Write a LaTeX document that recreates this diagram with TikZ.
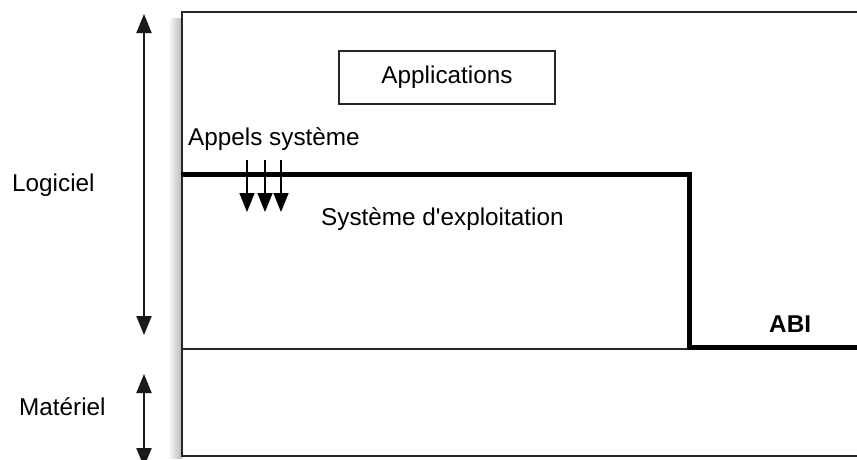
\documentclass[tikz,border=0pt]{standalone}
\usepackage{fontspec}
\setmainfont{Liberation Sans}
\usetikzlibrary{arrows.meta,positioning}
\tikzset{
  layer text/.style={font=\fontsize{24.3}{29}\selectfont, inner sep=0pt},
  frame line/.style={draw=black!85, line width=2pt},
  abi line/.style={draw=black, line width=5pt},
  span arrow/.style={draw=black!90, line width=2pt, {Triangle[length=19pt,width=15pt]}-{Triangle[length=19pt,width=15pt]}},
  call arrow/.style={draw=black, line width=1.6pt, -{Triangle[length=19pt,width=15pt]}},
}
\begin{document}
\begin{tikzpicture}[x=1pt,y=-1pt]
  \useasboundingbox (0,0) rectangle (857,459);
  % soft shadow left of the frame
  \shade[left color=white, right color=black!28] (168,18) rectangle (182,458);
  % frame and hardware boundary
  \draw[frame line] (182,12) rectangle (870,456);
  \draw[frame line] (182,349) -- (870,349);
  % ABI boundary
  \coordinate (abi start) at (181,174);
  \coordinate (abi corner) at (689,174);
  \coordinate (abi foot) at (689,347);
  \coordinate (abi end) at (870,347);
  \draw[abi line, line join=miter] (abi start) -- (abi corner) -- (abi foot) -- (abi end);

  \node[layer text, draw=black!85, line width=2pt, minimum width=216pt, minimum height=53pt]
    (apps) at (447,77.5) {Applications};
  \node[layer text, anchor=base west] (calls) at (188,145) {Appels système};
  \node[layer text, anchor=base west] (os) at (321,225) {Système d\textquotesingle exploitation};
  \node[layer text, anchor=base west, font=\fontsize{24.3}{29}\selectfont\bfseries] (abi) at (769,332) {ABI};
  \node[layer text, anchor=base west] (soft) at (12,191) {Logiciel};
  \node[layer text, anchor=base west] (hard) at (19,415) {Matériel};

  % extents
  \coordinate (soft top) at (144,14);
  \coordinate (soft bot) at (144,335);
  \coordinate (hard top) at (144,374);
  \coordinate (hard bot) at (144,467);
  \draw[span arrow] (soft top) -- (soft bot);
  \draw[span arrow] (hard top) -- (hard bot);

  % system calls
  \foreach \x/\n in {247/a,265/b,281/c} {
    \coordinate (call \n) at (\x,160);
    \coordinate (lands \n) at (\x,212);
    \draw[call arrow] (call \n) -- (lands \n);
  }
\end{tikzpicture}
\end{document}
